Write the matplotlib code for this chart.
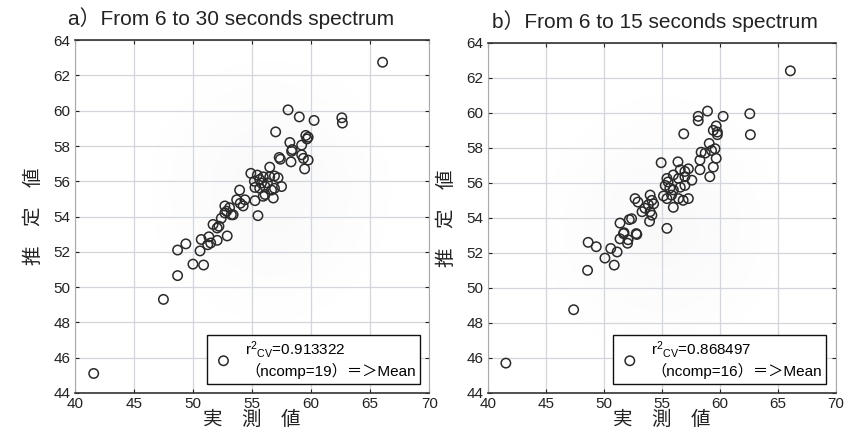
import numpy as np
import matplotlib
matplotlib.use("Agg")
import matplotlib.pyplot as plt

plt.rcParams['font.family'] = ['Liberation Sans', 'Noto Sans CJK JP', 'DejaVu Sans']
plt.rcParams['mathtext.fontset'] = 'custom'
plt.rcParams['mathtext.rm'] = 'Liberation Sans'
plt.rcParams['mathtext.it'] = 'Liberation Sans'

# a) 6-30 s spectrum: measured vs predicted
a_meas = [41.6, 47.5, 48.7, 48.7, 49.4, 50.0, 50.9, 50.6, 50.7, 51.35, 51.25, 51.5, 52.05, 52.9,
          51.7, 52.2, 52.05, 52.4, 52.7, 52.85, 53.25, 52.7, 53.1, 53.4, 53.7, 54.0, 54.25, 54.4,
          53.95, 55.5, 55.25, 56.8, 55.95, 56.1, 56.65, 56.9, 57.5, 55.25, 55.65, 56.1, 56.5, 56.9,
          57.2, 55.45, 55.65, 55.95, 54.9, 56.5, 59.45, 58.3, 57.3, 57.4, 59.2, 59.35, 59.75, 58.4,
          58.35, 58.2, 59.2, 59.55, 59.65, 59.75, 57.0, 62.6, 62.65, 60.25, 59.0, 58.05, 66.05,
          55.2, 55.8, 56.3]
a_pred = [45.1, 49.3, 50.65, 52.1, 52.45, 51.3, 51.25, 52.05, 52.7, 52.85, 52.4, 52.5, 52.65, 52.9,
          53.55, 53.45, 53.35, 53.9, 54.6, 54.3, 54.1, 54.2, 54.5, 54.1, 54.95, 54.75, 54.6, 54.95,
          55.5, 54.05, 54.9, 55.05, 55.15, 55.25, 55.5, 55.6, 55.7, 55.65, 55.6, 55.7, 56.25, 56.3,
          56.2, 56.35, 56.1, 56.25, 56.45, 56.8, 56.7, 57.1, 57.35, 57.25, 57.5, 57.3, 57.2, 57.8,
          57.7, 58.2, 58.05, 58.6, 58.4, 58.5, 58.8, 59.6, 59.3, 59.45, 59.65, 60.05, 62.75,
          56.0, 55.9, 55.9]

# b) 6-15 s spectrum
b_meas = [41.55, 47.4, 48.6, 48.65, 49.35, 50.1, 50.9, 50.6, 51.15, 51.4, 52.05, 52.1, 52.85, 51.4,
          52.2, 51.75, 52.4, 53.95, 55.45, 52.7, 52.95, 53.3, 53.55, 53.85, 54.0, 54.15, 54.0, 54.15,
          54.3, 55.15, 55.45, 55.85, 56.45, 56.85, 57.3, 56.0, 55.45, 55.55, 55.3, 55.7, 56.0, 56.6,
          57.0, 57.3, 57.0, 56.6, 56.0, 56.45, 57.0, 57.6, 54.95, 56.4, 59.15, 58.3, 59.45, 58.3,
          59.7, 59.1, 58.4, 58.75, 59.3, 59.6, 59.7, 59.8, 59.45, 59.8, 56.9, 62.6, 62.65, 60.3,
          58.15, 58.15, 58.95, 66.1, 52.8, 51.7]
b_pred = [45.7, 48.75, 51.0, 52.6, 52.35, 51.7, 51.3, 52.25, 52.05, 52.8, 52.55, 52.75, 53.05, 53.7,
          53.9, 53.15, 53.95, 53.8, 53.4, 55.1, 54.9, 54.35, 54.55, 54.75, 54.35, 54.15, 55.3, 55.0,
          54.8, 55.25, 55.1, 55.3, 55.1, 55.0, 55.1, 54.6, 56.25, 56.05, 55.85, 55.7, 55.6, 55.75,
          55.85, 56.8, 56.65, 56.75, 56.45, 56.25, 56.35, 56.15, 57.15, 57.2, 56.35, 56.75, 56.9, 57.3,
          57.4, 58.25, 57.75, 57.7, 57.85, 57.95, 59.25, 58.9, 59.0, 58.75, 58.8, 59.95, 58.75, 59.8,
          59.8, 59.55, 60.1, 62.4, 53.1, 53.1]

titles = ['a\uff09From 6 to 30 seconds spectrum', 'b\uff09From 6 to 15 seconds spectrum']
title_x = [0.44, 0.48]
r2_values = ['0.913322', '0.868497']
ncomps = [19, 16]
glow_centres = [(56.5, 55.5), (55.0, 53.5)]

fig = plt.figure(figsize=(8.5, 4.37), dpi=100)
ax_a = fig.add_axes([0.088, 0.101, 0.417, 0.807])
ax_b = fig.add_axes([0.574, 0.101, 0.409, 0.801])

panels = [(ax_a, a_meas, a_pred), (ax_b, b_meas, b_pred)]
for i, (ax, xs, ys) in enumerate(panels):
    # faint radial shading behind the points
    gx, gy = np.meshgrid(np.linspace(40, 70, 300), np.linspace(44, 64, 200))
    cx, cy = glow_centres[i]
    d = np.sqrt(((gx - cx) / 11.0) ** 2 + ((gy - cy) / 8.0) ** 2)
    shade = np.clip(1 - d, 0, 1) * 0.05
    ax.imshow(shade, extent=[40, 70, 44, 64], origin='lower', cmap='Greys',
              vmin=0, vmax=1, aspect='auto', zorder=0, interpolation='bilinear')

    label = ('r$^{2}$$_{\\mathrm{CV}}$=' + r2_values[i] + '\n'
             + '\uff08ncomp=' + str(ncomps[i]) + '\uff09\uff1d\uff1eMean')
    ax.scatter(xs, ys, s=46, facecolors='none', edgecolors='#2a2a2a',
               linewidths=1.1, zorder=3, label=label)

    ax.set_xlim(40, 70)
    ax.set_ylim(44, 64)
    ax.set_xticks(np.arange(40, 71, 5))
    ax.set_yticks(np.arange(44, 65, 2))
    ax.grid(True, color='#d3d6dc', linewidth=0.9, zorder=1)
    ax.set_axisbelow(True)
    ax.tick_params(direction='in', top=True, right=True, length=3,
                   labelsize=11, colors='#222222', pad=3)
    for side in ['top', 'bottom']:
        ax.spines[side].set_color('#333333')
        ax.spines[side].set_linewidth(1.2)
    for side in ['left', 'right']:
        ax.spines[side].set_color('#aaaaaa')
        ax.spines[side].set_linewidth(0.8)

    ax.set_title(titles[i], fontsize=15, pad=11, x=title_x[i], color='#222222')
    ax.set_xlabel('実　測　値', fontsize=14, labelpad=0, color='#222222')
    ax.set_ylabel('推　定　値', fontsize=14, labelpad=8, color='#222222')

    leg = ax.legend(loc='lower right', fontsize=11, frameon=True, fancybox=False,
                    edgecolor='#111111', framealpha=1, borderpad=0.3,
                    handletextpad=0.6, borderaxespad=0.6, handlelength=1.6)
    leg.get_frame().set_linewidth(1.0)

fig.savefig('out.png', dpi=100)
